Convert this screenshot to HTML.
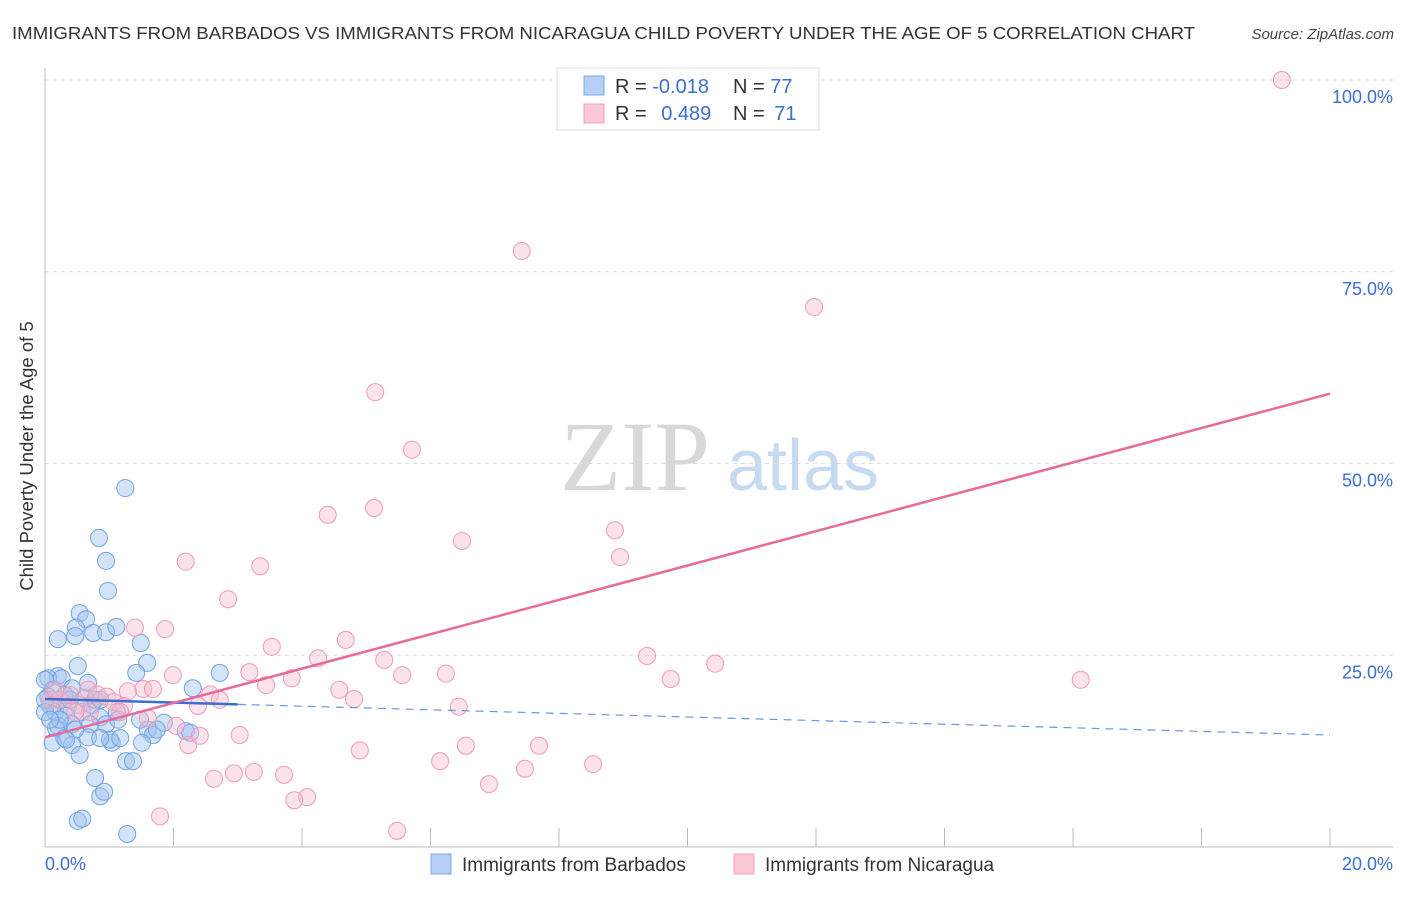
<!DOCTYPE html>
<html><head><meta charset="utf-8">
<style>
body{margin:0;background:#fff;font-family:"Liberation Sans",sans-serif;}
</style></head>
<body>
<svg id="chart" width="1406" height="892" viewBox="0 0 1406 892" xmlns="http://www.w3.org/2000/svg" style="font-family:'Liberation Sans',sans-serif">
<text x="12" y="39" font-size="17.5" fill="#333" textLength="1183" lengthAdjust="spacingAndGlyphs">IMMIGRANTS FROM BARBADOS VS IMMIGRANTS FROM NICARAGUA CHILD POVERTY UNDER THE AGE OF 5 CORRELATION CHART</text>
<text x="1394" y="39" font-size="15" fill="#444" text-anchor="end" font-style="italic">Source: ZipAtlas.com</text>
<text transform="translate(33,456) rotate(-90)" font-size="18.5" fill="#333" text-anchor="middle">Child Poverty Under the Age of 5</text>
<g>
<text x="635" y="490" font-size="100" fill="#d8d8d8" style="font-family:'Liberation Serif',serif" text-anchor="middle">ZIP</text>
<text x="803" y="490" font-size="72" fill="#c8daf2" text-anchor="middle">atlas</text>
</g>
<g id="grid"></g>
<g id="axes"></g>
<g id="pts"></g>
<g id="lines"></g>
<g>
<rect x="557" y="68" width="262" height="62" fill="#fff" stroke="#ddd"/>
<rect x="584" y="76" width="20" height="19" fill="#b6d0f5" stroke="#7aa8e6"/>
<rect x="584" y="104" width="20" height="19" fill="#fbc8d6" stroke="#f0a0b8"/>
<text x="615" y="93" font-size="20" fill="#333">R = <tspan fill="#3a6fd0">-0.018</tspan></text>
<text x="733" y="93" font-size="20" fill="#333">N = <tspan fill="#3a6fd0">77</tspan></text>
<text x="615" y="120" font-size="20" fill="#333">R = <tspan fill="#3a6fd0" dx="9">0.489</tspan></text>
<text x="733" y="120" font-size="20" fill="#333">N = <tspan fill="#3a6fd0" dx="4">71</tspan></text>
</g>
<g>
<rect x="431" y="854" width="20" height="20" fill="#b6d0f5" stroke="#7aa8e6"/>
<text x="462" y="871" font-size="19" fill="#333">Immigrants from Barbados</text>
<rect x="734" y="854" width="20" height="20" fill="#fbc8d6" stroke="#f0a0b8"/>
<text x="765" y="871" font-size="19" fill="#333">Immigrants from Nicaragua</text>
</g>
</svg>
<script>
const yTicks=[100,75,50,25];
const yTickLabels=["100.0%","75.0%","50.0%","25.0%"];
const xEndLabels=["0.0%","20.0%"];
const blueX=[1.25,0.84,0.95,0.98,0.54,0.64,0.48,0.47,0.20,0.75,0.95,1.11,1.49,1.59,1.42,0.51,2.72,2.30,0.20,0.05,0.26,0.67,0.12,0.42,0.05,0.23,0.08,0.16,0.36,0.58,0.73,1.12,0.86,0.33,0.20,0.42,0.70,0.95,1.14,1.85,1.60,1.68,2.19,2.26,0.17,0.30,0.67,1.04,1.51,0.12,0.42,0.54,1.26,1.37,0.78,0.86,0.92,0.51,0.58,1.28,0.0,0.0,0.0,0.31,0.39,0.62,0.78,0.86,1.01,0.23,0.08,0.47,0.33,0.86,1.17,1.74,1.48];
const blueY=[46.8,40.3,37.3,33.4,30.5,29.7,28.6,27.5,27.1,27.9,28.0,28.7,26.6,24.0,22.7,23.6,22.7,20.7,22.3,22.0,22.0,21.4,20.5,20.7,19.6,19.2,18.4,17.6,18.3,17.6,18.5,17.6,16.9,17.1,15.8,16.0,16.0,16.0,16.6,16.2,15.3,14.6,15.1,14.9,15.5,14.2,14.3,13.6,13.6,13.6,13.3,12.0,11.2,11.2,9.0,6.6,7.2,3.4,3.7,1.7,21.8,19.2,17.6,19.8,19.2,19.4,19.2,19.2,14.0,16.6,16.6,15.3,14.0,14.2,14.2,15.3,16.6];
const pinkX=[19.25,7.42,11.97,5.14,5.71,5.12,4.40,6.49,8.87,8.95,2.19,3.35,2.85,1.40,1.87,3.53,4.68,9.37,10.43,16.12,9.74,5.28,5.56,6.24,4.25,3.84,3.44,3.18,1.99,4.58,4.81,2.57,2.72,2.38,1.53,1.68,1.29,0.67,0.81,0.96,1.07,1.23,6.44,1.17,1.60,2.04,2.23,2.41,3.03,4.90,6.55,7.69,6.15,7.47,8.53,2.94,3.25,3.72,2.63,6.91,4.08,3.88,1.79,5.48,0.23,0.39,0.54,0.08,0.16,0.70,0.47];
const pinkY=[100,77.7,70.4,59.3,51.8,44.2,43.3,39.9,41.3,37.8,37.2,36.6,32.3,28.6,28.4,26.1,27.0,24.9,23.9,21.8,21.9,24.4,22.4,22.6,24.6,22.0,21.1,22.8,22.4,20.5,19.3,19.9,19.2,18.4,20.6,20.6,20.3,20.5,19.9,19.6,18.9,18.4,18.3,17.6,16.8,15.8,13.3,14.5,14.6,12.6,13.2,13.2,11.2,10.2,10.8,9.6,9.8,9.4,8.9,8.2,6.5,6.1,4.0,2.1,19.2,19.8,18.5,19.2,20.5,17.6,17.6];
const blueTrend=[19.3,14.6];
const blueSolidEnd=3.0;
const pinkTrend=[14.3,59.1];

const NS="http://www.w3.org/2000/svg";
const X=v=>45+v*64.25;
const Y=v=>847-v*7.67;
function mk(tag,attrs,parent){const e=document.createElementNS(NS,tag);for(const k in attrs)e.setAttribute(k,attrs[k]);document.getElementById(parent).appendChild(e);return e;}

yTicks.forEach((t,i)=>{
  const l=mk('line',{x1:45,x2:1393,y1:Y(t),y2:Y(t),stroke:'#ddd','stroke-dasharray':'4,4'},'grid');
  
  
  const tx=mk('text',{x:1393,y:Y(t)+23,'font-size':18,fill:'#3a6fd0','text-anchor':'end'},'grid');
  tx.textContent=yTickLabels[i];
  
  
});
let a=mk('line',{x1:45,x2:45,y1:68,y2:847,stroke:'#bbb'},'axes');


a=mk('line',{x1:45,x2:1393,y1:847,y2:847,stroke:'#bbb'},'axes');


for(let t=2;t<=20;t+=2){
  const k=mk('line',{x1:X(t),x2:X(t),y1:828,y2:847,stroke:'#bbb'},'axes');
  
  
}
let xl=mk('text',{x:45,y:870,'font-size':18,fill:'#3a6fd0'},'axes');xl.textContent=xEndLabels[0];


xl=mk('text',{x:1393,y:870,'font-size':18,fill:'#3a6fd0','text-anchor':'end'},'axes');xl.textContent=xEndLabels[1];



blueX.forEach((x,i)=>{
  const c=mk('circle',{cx:X(x),cy:Y(blueY[i]),r:8.5,fill:'rgba(160,196,240,0.45)',stroke:'#6fa3e3','stroke-width':1},'pts');
  
  
});
pinkX.forEach((x,i)=>{
  const c=mk('circle',{cx:X(x),cy:Y(pinkY[i]),r:8.5,fill:'rgba(248,185,205,0.4)',stroke:'#f29ab5','stroke-width':1},'pts');
  
  
});
const by=x=>blueTrend[0]+(blueTrend[1]-blueTrend[0])*x/20;
let ln=mk('line',{x1:X(0),y1:Y(by(0)),x2:X(blueSolidEnd),y2:Y(by(blueSolidEnd)),stroke:'#3a6fd0','stroke-width':2.5},'lines');


ln=mk('line',{x1:X(blueSolidEnd),y1:Y(by(blueSolidEnd)),x2:X(20),y2:Y(by(20)),stroke:'#6b97dc','stroke-width':1.2,'stroke-dasharray':'8,6'},'lines');


ln=mk('line',{x1:X(0),y1:Y(pinkTrend[0]),x2:X(20),y2:Y(pinkTrend[1]),stroke:'#e8699a','stroke-width':2.5},'lines');


</script>
</body></html>
